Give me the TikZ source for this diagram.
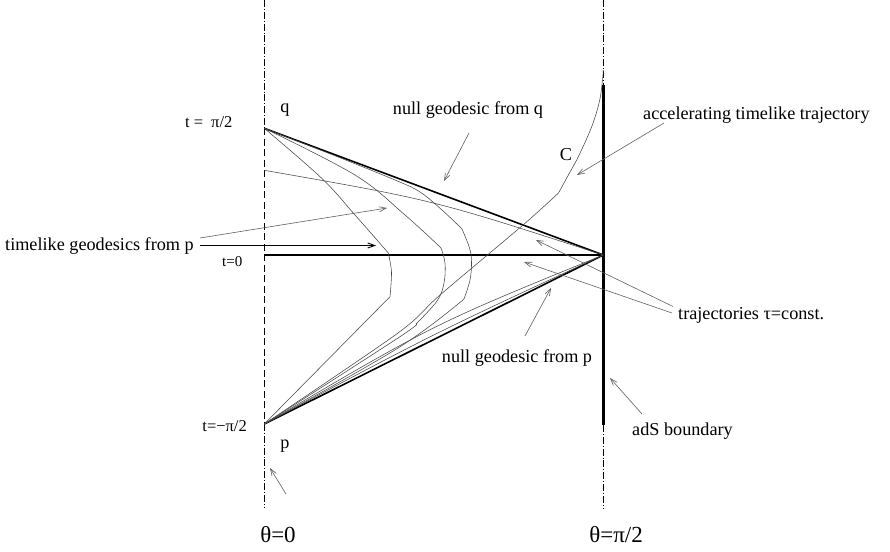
\documentclass[tikz,border=0pt]{standalone}
\usepackage{fontspec}
\setmainfont{Liberation Serif}
\usetikzlibrary{arrows.meta}
\begin{document}
\begin{tikzpicture}[x=1pt,y=-1pt,
  thincurve/.style={line width=0.55pt, black!72},
  nullgeo/.style={line width=1.6pt},
  lbl/.style={font=\fontsize{18.2}{21}\selectfont, inner sep=0pt},
  tlbl/.style={font=\fontsize{16.5}{19}\selectfont, inner sep=0pt},
  biglbl/.style={font=\fontsize{23}{26}\selectfont, inner sep=0pt},
  ptr/.style={line width=0.6pt, black!62, -{Straight Barb[length=7pt,width=5pt]}},
  axismid/.style={line width=0.6pt, dash pattern=on 7pt off 3.5pt},
  axisend/.style={line width=0.6pt, dash pattern=on 7pt off 2pt on 0.8pt off 2pt},
]
\useasboundingbox (0,0) rectangle (890,551);
\fill[white] (0,0) rectangle (890,551);

% key points
\coordinate (q) at (264.3,128.3);
\coordinate (p) at (264.3,424);
\coordinate (o) at (603.3,255);
\coordinate (ltop) at (264.3,0);
\coordinate (lbot) at (264.3,508);
\coordinate (rtop) at (603.3,0);
\coordinate (bstart) at (603.3,85);
\coordinate (bend) at (603.3,425);
\coordinate (rbot) at (603.3,508);
\coordinate (t0) at (264.3,255);
\coordinate (tau0) at (264.3,170.3);

% axes
\draw[axisend] (ltop) -- (q);
\draw[axismid] (q) -- (p);
\draw[axisend] (p) -- (lbot);
\draw[axisend] (rtop) -- (bstart);
\draw[line width=2.6pt] (bstart) -- (bend);
\draw[axisend] (bend) -- (rbot);

% null geodesics and t=0
\draw[nullgeo] (q) -- (o);
\draw[nullgeo] (p) -- (o);
\draw[line width=1.1pt] (t0) -- (o);

% timelike geodesic 1
\draw[thincurve] plot[smooth,tension=0.6] coordinates {(264.3,128.3) (321.7,178.3) (355,215) (388.3,253)};
\draw[thincurve] plot[smooth] coordinates {(388.3,253) (391.5,272) (390,296.7)};
\draw[thincurve] (390,296.7) -- (p);

% timelike geodesic 2
\draw[thincurve] plot[smooth,tension=0.6] coordinates {(264.3,128.3) (355,175) (405,215) (441,248)};
\draw[thincurve] plot[smooth,tension=0.6] coordinates {(441,248) (445,263) (444,283) (437,301) (416,324)};
\draw[thincurve] plot[smooth,tension=0.6] coordinates {(416,324) (398,338) (264.3,424)};

% timelike geodesic 3
\draw[thincurve] plot[smooth,tension=0.6] coordinates {(264.3,128.3) (330,153.8) (395,180) (420,192) (442,210) (462,229)};
\draw[thincurve] plot[smooth,tension=0.6] coordinates {(462,229) (469.5,248) (471.5,262) (470,280) (464,299)};
\draw[thincurve] plot[smooth,tension=0.6] coordinates {(464,299) (398,348) (264.3,424)};

% further thin lines from p to the boundary point
\draw[thincurve] (p) .. controls (433.8,333.5) .. (o);
\draw[thincurve] (p) .. controls (433.8,324) .. (o);

% trajectory tau = const
\draw[thincurve] (tau0) .. controls (433.8,200) .. (o);

% accelerating trajectory C
\draw[thincurve] plot[smooth,tension=0.5] coordinates {(264.3,424) (398,333) (440,295) (523,225) (558.5,193)};
\draw[thincurve] plot[smooth,tension=0.6] coordinates {(558.5,193) (570,172) (578.3,156.7) (591.7,126.7) (599.5,101) (602.5,80) (603.3,70)};

% labels
\node[lbl, anchor=base] (lq) at (285,112.5) {q};
\node[lbl, anchor=base] (lp) at (285,448) {p};
\node[tlbl, anchor=base west] (ltq) at (185,127.3) {t =\hspace{8pt}π/2};
\node[tlbl, anchor=base east] (ltp) at (247,431) {t=−π/2};
\node[font=\fontsize{15}{17}\selectfont, inner sep=0pt, anchor=base west] (lt0) at (222,266) {t=0};
\node[lbl, anchor=base west] (ltl) at (5,250) {timelike geodesics from p};
\node[lbl, anchor=base] (lnq) at (468,114) {null geodesic from q};
\node[lbl, anchor=base west] (lacc) at (643,119) {accelerating timelike trajectory};
\node[lbl, anchor=base] (lC) at (566,160) {C};
\node[lbl, anchor=base] (lnp) at (517,362.7) {null geodesic from p};
\node[lbl, anchor=base west] (ltau) at (678,319.3) {trajectories τ=const.};
\node[lbl, anchor=base west] (lads) at (632,435) {adS boundary};
\node[biglbl, anchor=base] (lth0) at (278,542.7) {θ=0};
\node[biglbl, anchor=base] (lth1) at (616,542.7) {θ=π/2};

% arrow ends
\coordinate (a1s) at (469,133);   \coordinate (a1e) at (444,181);
\coordinate (a2s) at (664,123);   \coordinate (a2e) at (577,175);
\coordinate (a3s) at (200,238);   \coordinate (a3e) at (387,208);
\coordinate (a4s) at (200,245.5); \coordinate (a4e) at (376,245.5);
\coordinate (a5s) at (525,336);   \coordinate (a5e) at (551,288);
\coordinate (a6s) at (673,306.5); \coordinate (a6e) at (536,240);
\coordinate (a7s) at (672,313);   \coordinate (a7e) at (524,262);
\coordinate (a8s) at (642,414);   \coordinate (a8e) at (610,378);
\coordinate (a9s) at (286,494);   \coordinate (a9e) at (270,468);

\draw[ptr] (a1s) -- (a1e);
\draw[ptr] (a2s) -- (a2e);
\draw[ptr] (a3s) -- (a3e);
\draw[ptr, black, line width=0.9pt] (a4s) -- (a4e);
\draw[ptr] (a5s) -- (a5e);
\draw[ptr] (a6s) -- (a6e);
\draw[ptr] (a7s) -- (a7e);
\draw[ptr] (a8s) -- (a8e);
\draw[ptr] (a9s) -- (a9e);
\end{tikzpicture}
\end{document}
